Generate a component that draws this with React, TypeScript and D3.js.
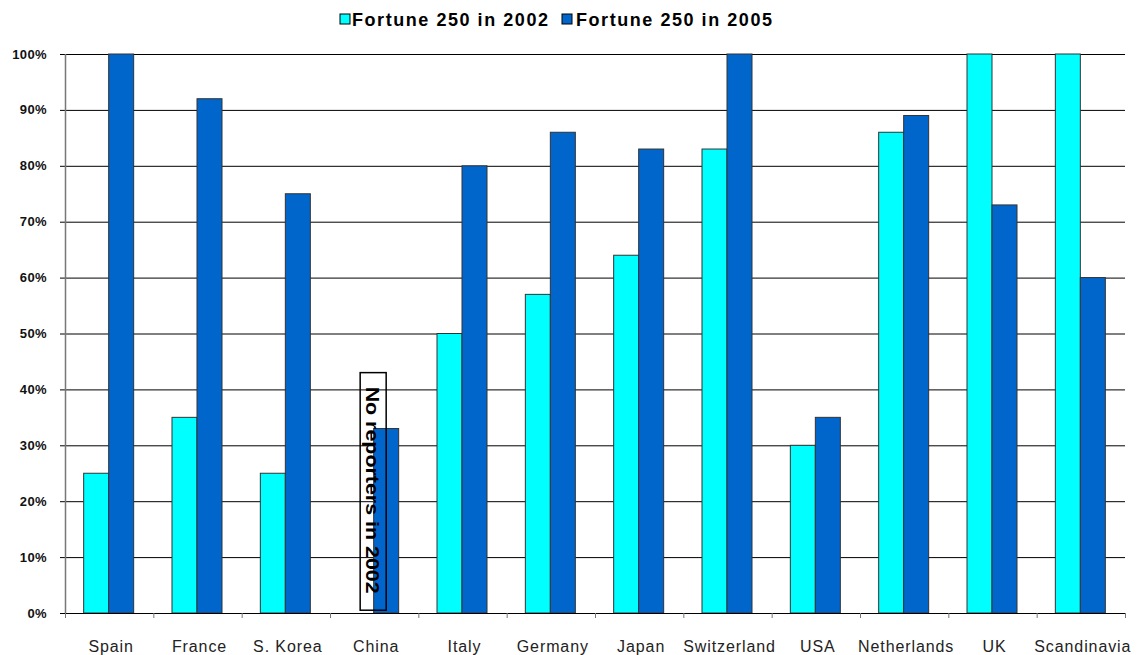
import * as d3 from 'd3';

const categories = ['Spain', 'France', 'S. Korea', 'China', 'Italy', 'Germany', 'Japan', 'Switzerland', 'USA', 'Netherlands', 'UK', 'Scandinavia'];
const values2002: (number | null)[] = [25, 35, 25, null, 50, 57, 64, 83, 30, 86, 100, 100];
const values2005 = [100, 92, 75, 33, 80, 86, 83, 100, 35, 89, 73, 60];
const seriesNames = ['Fortune 250 in 2002', 'Fortune 250 in 2005'];
const yTicks = [0, 10, 20, 30, 40, 50, 60, 70, 80, 90, 100];
const noteCategory = 'China';
const noteText = 'No reporters in 2002';

const colors = ['#00ffff', '#0066cc'];

export default function App() {
  const width = 1146;
  const height = 655;
  const margin = { top: 54, right: 21, bottom: 42, left: 65 };
  const plotW = width - margin.left - margin.right;
  const plotH = height - margin.top - margin.bottom;

  const x = d3.scaleBand<string>().domain(categories).range([0, plotW]);
  const barW = 25;
  const groupOffset = (x.bandwidth() - barW * 2) / 2 - 0.5;
  const y = d3.scaleLinear().domain([0, 100]).range([plotH, 0]);

  const noteX = x(noteCategory)! + x.bandwidth() / 2 - 14;

  return (
    <svg width={width} height={height} style={{ position: 'absolute', left: 0, top: 0, background: '#fff' }}>
      {/* legend */}
      <g fontFamily="Liberation Sans, Arial, sans-serif" fontWeight="bold" fontSize={18} letterSpacing={1.55}>
        <rect x={340} y={14} width={10} height={10} fill={colors[0]} stroke="#000" strokeWidth={1} />
        <text x={352} y={26}>{seriesNames[0]}</text>
        <rect x={562} y={14} width={10} height={10} fill={colors[1]} stroke="#000" strokeWidth={1} />
        <text x={576} y={26}>{seriesNames[1]}</text>
      </g>

      <g transform={`translate(${margin.left},${margin.top})`}>
        {/* gridlines + y labels */}
        {yTicks.map((t) => (
          <g key={t}>
            <line x1={-5} x2={plotW} y1={y(t) + 0.5} y2={y(t) + 0.5} stroke="#000" strokeWidth={1} />
            <text
              x={-18}
              y={y(t) + 4.5}
              textAnchor="end"
              fontFamily="Liberation Sans, Arial, sans-serif"
              fontWeight="bold"
              fontSize={13}
              letterSpacing={0.4}
              fill="#111"
            >
              {t}%
            </text>
          </g>
        ))}

        {/* bars */}
        {categories.map((c, i) => {
          const x0 = x(c)! + groupOffset;
          const v1 = values2002[i];
          const v2 = values2005[i];
          return (
            <g key={c}>
              {v1 != null && (
                <rect x={x0} y={y(v1)} width={barW} height={plotH - y(v1)} fill={colors[0]} stroke="#333" strokeWidth={1} />
              )}
              <rect x={x0 + barW} y={y(v2)} width={barW} height={plotH - y(v2)} fill={colors[1]} stroke="#333" strokeWidth={1} />
            </g>
          );
        })}

        {/* axes */}
        <line x1={0.5} x2={0.5} y1={0} y2={plotH} stroke="#777" strokeWidth={1.5} />
        <line x1={0} x2={plotW} y1={plotH + 0.5} y2={plotH + 0.5} stroke="#000" strokeWidth={1} />
        {categories.concat(['']).map((c, i) => {
          const tx = i < categories.length ? x(c)! : plotW;
          return <line key={i} x1={tx + 0.5} x2={tx + 0.5} y1={plotH} y2={plotH + 5} stroke="#777" strokeWidth={1} />;
        })}

        {/* category labels */}
        {categories.map((c) => (
          <text
            key={c}
            x={x(c)! + x.bandwidth() / 2 + 2}
            y={plotH + 39}
            textAnchor="middle"
            fontFamily="Liberation Sans, Arial, sans-serif"
            fontSize={16}
            letterSpacing={0.9}
            fill="#222"
          >
            {c}
          </text>
        ))}

        {/* annotation */}
        <rect x={noteX} y={y(43)} width={26} height={y(0.5) - y(43)} fill="none" stroke="#000" strokeWidth={1.5} />
        <text
          transform={`translate(${noteX + 6},${y(43) + 14}) rotate(90)`}
          fontFamily="Liberation Sans, Arial, sans-serif"
          fontWeight="bold"
          fontSize={18}
          textLength={207}
          lengthAdjust="spacingAndGlyphs"
          fill="#000"
        >
          {noteText}
        </text>
      </g>
    </svg>
  );
}
